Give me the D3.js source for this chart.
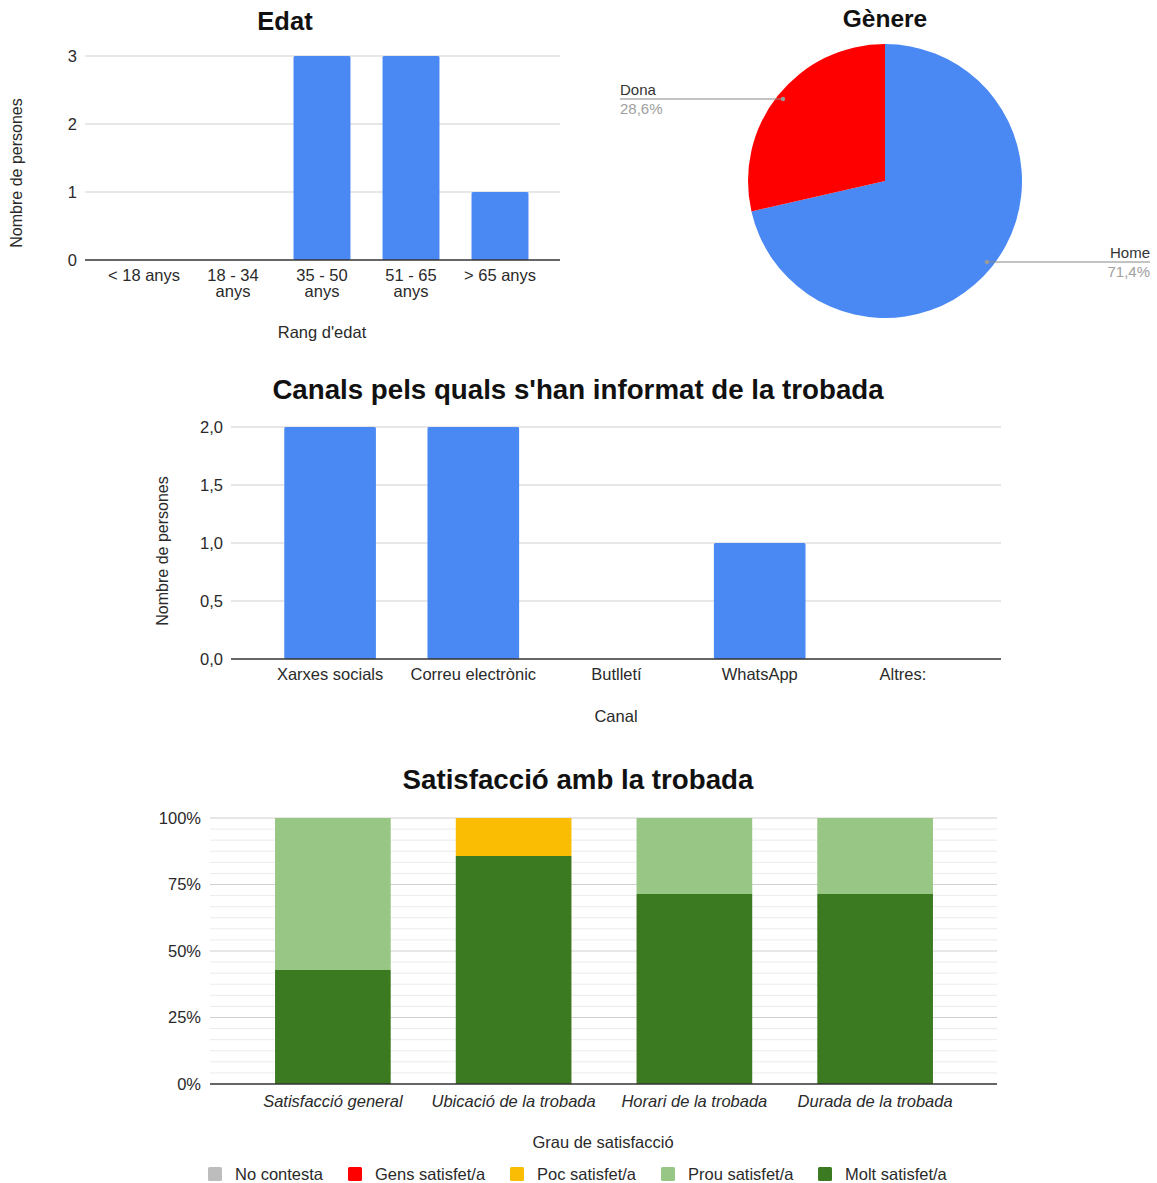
<!DOCTYPE html>
<html><head><meta charset="utf-8">
<script src="https://cdn.jsdelivr.net/npm/d3@7"></script>
<style>
body{margin:0;background:#fff;}
text{font-family:"Liberation Sans",Arial,sans-serif;}
</style></head>
<body><svg id="c" width="1157" height="1183"></svg>
<script>
// ---- Data ----
const ageCategories = ["< 18 anys", "18 - 34 anys", "35 - 50 anys", "51 - 65 anys", "> 65 anys"];
const ageValues = [0, 0, 3, 3, 1];
const ageTicks = [0, 1, 2, 3];

const genderLabels = ["Home", "Dona"];
const genderValues = [5, 2];
const genderPercentLabels = ["71,4%", "28,6%"];

const channelCategories = ["Xarxes socials", "Correu electrònic", "Butlletí", "WhatsApp", "Altres:"];
const channelValues = [2, 2, 0, 1, 0];
const channelTicks = [0, 0.5, 1, 1.5, 2];
const channelTickLabels = ["0,0", "0,5", "1,0", "1,5", "2,0"];

const satCategories = ["Satisfacció general", "Ubicació de la trobada", "Horari de la trobada", "Durada de la trobada"];
const satSeries = ["Molt satisfet/a", "Prou satisfet/a", "Poc satisfet/a", "Gens satisfet/a", "No contesta"];
const satMolt = [3, 6, 5, 5];
const satProu = [4, 0, 2, 2];
const satPoc = [0, 1, 0, 0];
const satGens = [0, 0, 0, 0];
const satNoContesta = [0, 0, 0, 0];
const satTicks = [0, 0.25, 0.5, 0.75, 1];
const satTickLabels = ["0%", "25%", "50%", "75%", "100%"];
const legendOrder = ["No contesta", "Gens satisfet/a", "Poc satisfet/a", "Prou satisfet/a", "Molt satisfet/a"];

// ---- Styles ----
const BLUE = "#4a89f3", RED = "#ff0000";
const satColors = {"No contesta":"#bdbdbd","Gens satisfet/a":"#ff0000","Poc satisfet/a":"#fbbc04","Prou satisfet/a":"#98c685","Molt satisfet/a":"#3c7a22"};
const svg = d3.select("#c");
const TXT = "#2a2a2a";
const FS = 16.5;

function barChart(opt){
  const g = svg.append("g");
  const x = d3.scaleBand().domain(opt.cats).range([opt.bx0, opt.bx1]).paddingInner(0.36).paddingOuter(0.18);
  const y = d3.scaleLinear().domain(opt.ydom).range([opt.y0, opt.y1]);
  g.selectAll(".gl").data(opt.ticks.filter(t=>t!==opt.ydom[0])).join("line")
    .attr("x1", opt.gx0).attr("x2", opt.gx1).attr("y1", d=>y(d)).attr("y2", d=>y(d))
    .attr("stroke", "#d0d0d0").attr("stroke-width", 1.2);
  g.selectAll(".bar").data(opt.cats.map((c,i)=>({c, v:opt.vals[i]})).filter(d=>d.v>0)).join("rect")
    .attr("x", d=>x(d.c)).attr("width", x.bandwidth())
    .attr("y", d=>y(d.v)).attr("height", d=>y(0)-y(d.v))
    .attr("fill", BLUE).attr("rx", 1.5);
  g.append("line").attr("x1", opt.gx0).attr("x2", opt.gx1).attr("y1", y(0)).attr("y2", y(0))
    .attr("stroke", "#333").attr("stroke-width", 1.4);
  g.selectAll(".yt").data(opt.ticks).join("text")
    .attr("x", opt.gx0 - 8).attr("y", d=>y(d)).attr("dy", "0.35em").attr("text-anchor", "end")
    .attr("font-size", FS).attr("fill", TXT).text((d,i)=>opt.tickLabels[i]);
  opt.cats.forEach((c,i)=>{
    const lines = opt.wrap ? opt.wrap[i] : [c];
    const t = g.append("text").attr("x", x(c)+x.bandwidth()/2).attr("y", opt.xtY)
      .attr("text-anchor","middle").attr("font-size", FS).attr("fill", TXT);
    lines.forEach((l,j)=>t.append("tspan").attr("x", x(c)+x.bandwidth()/2).attr("dy", j===0?0:16).text(l));
  });
  g.append("text").attr("x", opt.titleX).attr("y", opt.titleY).attr("text-anchor","middle")
    .attr("font-size", opt.titleSize).attr("font-weight","bold").attr("fill","#111").text(opt.title);
  g.append("text").attr("x", opt.xlabX).attr("y", opt.xlabY).attr("text-anchor","middle")
    .attr("font-size", FS).attr("fill", TXT).text(opt.xlab);
  g.append("text").attr("transform", `translate(${opt.ylabX},${opt.ylabY}) rotate(-90)`)
    .attr("text-anchor","middle").attr("font-size", 16).attr("fill", TXT).text(opt.ylab);
}

// Edat
barChart({cats: ageCategories, vals: ageValues, ydom:[0,3], ticks: ageTicks, tickLabels: ageTicks.map(String),
  bx0: 99.5, bx1: 544.5, gx0: 85, gx1: 560, y0: 260, y1: 56, xtY: 281,
  wrap: [["< 18 anys"],["18 - 34","anys"],["35 - 50","anys"],["51 - 65","anys"],["> 65 anys"]],
  title: "Edat", titleX: 285, titleY: 30, titleSize: 25.5,
  xlab: "Rang d'edat", xlabX: 322, xlabY: 338, ylab: "Nombre de persones", ylabX: 22, ylabY: 173});

// Canals
barChart({cats: channelCategories, vals: channelValues, ydom:[0,2], ticks: channelTicks, tickLabels: channelTickLabels,
  bx0: 258.5, bx1: 974.5, gx0: 231, gx1: 1001, y0: 659, y1: 427, xtY: 680,
  title: "Canals pels quals s'han informat de la trobada", titleX: 578, titleY: 399, titleSize: 27.7,
  xlab: "Canal", xlabX: 616, xlabY: 722, ylab: "Nombre de persones", ylabX: 168, ylabY: 551});

// Pie
(function(){
  const cx = 885, cy = 181, r = 137;
  const g = svg.append("g").attr("transform", `translate(${cx},${cy})`);
  const data = genderLabels.map((l,i)=>({l, v: genderValues[i], p: genderPercentLabels[i]}));
  const pie = d3.pie().value(d=>d.v).sort(null);
  const arcs = pie(data);
  const arc = d3.arc().innerRadius(0).outerRadius(r);
  const colors = {Home: BLUE, Dona: RED};
  g.selectAll("path").data(arcs).join("path").attr("d", arc).attr("fill", d=>colors[d.data.l]);
  svg.append("text").attr("x", cx).attr("y", 27).attr("text-anchor","middle")
    .attr("font-size", 24.5).attr("font-weight","bold").attr("fill","#111").text("Gènere");
  const lab = {
    Home: {anchor: "end", tx: 1150, lx: 987, ly: 262},
    Dona: {anchor: "start", tx: 620, lx: 783, ly: 99}
  };
  arcs.forEach(a=>{
    const L = lab[a.data.l];
    svg.append("line").attr("x1", L.lx).attr("x2", L.tx).attr("y1", L.ly).attr("y2", L.ly)
      .attr("stroke", "#888").attr("stroke-width", 1.2);
    svg.append("circle").attr("cx", L.lx).attr("cy", L.ly).attr("r", 2.2).attr("fill", "#999");
    svg.append("text").attr("x", L.tx).attr("y", L.ly - 4).attr("text-anchor", L.anchor)
      .attr("font-size", 15).attr("fill", "#333").text(a.data.l);
    svg.append("text").attr("x", L.tx).attr("y", L.ly + 15).attr("text-anchor", L.anchor)
      .attr("font-size", 15).attr("fill", "#a0a0a0").text(a.data.p);
  });
})();

// Satisfacció stacked 100%
(function(){
  const g = svg.append("g");
  const rows = satCategories.map((c,i)=>{
    const tot = satMolt[i]+satProu[i]+satPoc[i]+satGens[i]+satNoContesta[i];
    return {cat:c, "Molt satisfet/a": satMolt[i]/tot, "Prou satisfet/a": satProu[i]/tot,
      "Poc satisfet/a": satPoc[i]/tot, "Gens satisfet/a": satGens[i]/tot, "No contesta": satNoContesta[i]/tot};
  });
  const stack = d3.stack().keys(satSeries)(rows);
  const x = d3.scaleBand().domain(satCategories).range([242.5, 965.5]).paddingInner(0.36).paddingOuter(0.18);
  const y = d3.scaleLinear().domain([0,1]).range([1084, 818]);
  const gx0 = 210, gx1 = 997;
  const minor = d3.range(1,24).map(k=>k/24).filter(v=>Math.abs(v*4-Math.round(v*4))>1e-6);
  g.selectAll(".mg").data(minor).join("line").attr("x1", gx0).attr("x2", gx1)
    .attr("y1", d=>y(d)).attr("y2", d=>y(d)).attr("stroke", "#ebebeb").attr("stroke-width", 1);
  g.selectAll(".gl").data(satTicks.slice(1)).join("line").attr("x1", gx0).attr("x2", gx1)
    .attr("y1", d=>y(d)).attr("y2", d=>y(d)).attr("stroke", "#d0d0d0").attr("stroke-width", 1.2);
  stack.forEach(s=>{
    g.selectAll(null).data(s.filter(d=>d[1]-d[0]>0)).join("rect")
      .attr("x", d=>x(d.data.cat)).attr("width", x.bandwidth())
      .attr("y", d=>y(d[1])).attr("height", d=>y(d[0])-y(d[1]))
      .attr("fill", satColors[s.key]);
  });
  g.append("line").attr("x1", gx0).attr("x2", gx1).attr("y1", y(0)).attr("y2", y(0))
    .attr("stroke", "#333").attr("stroke-width", 1.4);
  g.selectAll(".yt").data(satTicks).join("text").attr("x", 201).attr("y", d=>y(d)).attr("dy","0.35em")
    .attr("text-anchor","end").attr("font-size", FS).attr("fill", TXT).text((d,i)=>satTickLabels[i]);
  g.selectAll(".xt").data(satCategories).join("text").attr("x", d=>x(d)+x.bandwidth()/2).attr("y", 1107)
    .attr("text-anchor","middle").attr("font-size", FS).attr("font-style","italic").attr("fill", TXT).text(d=>d);
  g.append("text").attr("x", 578).attr("y", 789).attr("text-anchor","middle")
    .attr("font-size", 27.7).attr("font-weight","bold").attr("fill","#111").text("Satisfacció amb la trobada");
  g.append("text").attr("x", 603).attr("y", 1148).attr("text-anchor","middle")
    .attr("font-size", FS).attr("fill", TXT).text("Grau de satisfacció");
  const lx = [208, 348, 510, 661, 818];
  legendOrder.forEach((k,i)=>{
    g.append("rect").attr("x", lx[i]).attr("y", 1167).attr("width", 14).attr("height", 14).attr("rx", 1.5).attr("fill", satColors[k]);
    g.append("text").attr("x", lx[i]+27).attr("y", 1174).attr("dy","0.35em").attr("font-size", FS).attr("fill", TXT).text(k);
  });
})();
</script></body></html>
